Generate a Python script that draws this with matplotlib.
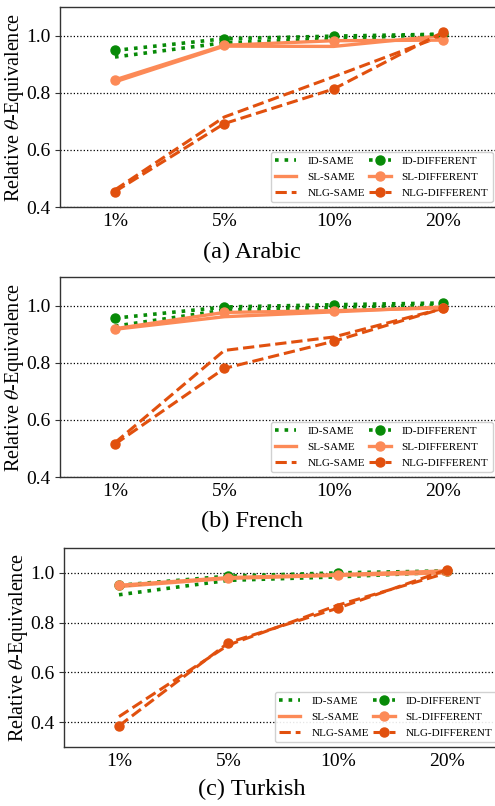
import matplotlib
matplotlib.use("Agg")
import matplotlib.pyplot as plt

plt.rcParams['font.family'] = ['Liberation Serif', 'DejaVu Serif']
plt.rcParams['mathtext.fontset'] = 'stix'

x_labels = ["1%", "5%", "10%", "20%"]

# Arabic
ar_id_same = [0.925, 0.975, 0.988, 1.005]
ar_id_diff = [0.948, 0.989, 0.998, 1.005]
ar_sl_same = [0.838, 0.963, 0.962, 1.000]
ar_sl_diff = [0.845, 0.966, 0.982, 0.984]
ar_nlg_same = [0.460, 0.715, 0.856, 1.000]
ar_nlg_diff = [0.454, 0.692, 0.813, 1.012]

# French
fr_id_same = [0.928, 0.984, 0.993, 1.002]
fr_id_diff = [0.956, 0.995, 1.003, 1.009]
fr_sl_same = [0.917, 0.961, 0.978, 0.995]
fr_sl_diff = [0.919, 0.976, 0.982, 0.992]
fr_nlg_same = [0.520, 0.843, 0.890, 0.990]
fr_nlg_diff = [0.515, 0.780, 0.875, 0.990]

# Turkish
tr_id_same = [0.912, 0.970, 0.984, 1.003]
tr_id_diff = [0.950, 0.987, 1.000, 1.008]
tr_sl_same = [0.945, 0.978, 0.990, 1.000]
tr_sl_diff = [0.950, 0.981, 0.993, 1.008]
tr_nlg_same = [0.422, 0.710, 0.870, 1.000]
tr_nlg_diff = [0.385, 0.719, 0.858, 1.013]

panels = [
    ("(a) Arabic", (ar_id_same, ar_id_diff, ar_sl_same, ar_sl_diff, ar_nlg_same, ar_nlg_diff), (0.4, 1.1)),
    ("(b) French", (fr_id_same, fr_id_diff, fr_sl_same, fr_sl_diff, fr_nlg_same, fr_nlg_diff), (0.4, 1.1)),
    ("(c) Turkish", (tr_id_same, tr_id_diff, tr_sl_same, tr_sl_diff, tr_nlg_same, tr_nlg_diff), (0.3, 1.1)),
]

GREEN = '#078a07'
LIGHT = '#fc8a57'
DARK = '#e1500e'

W, H = 495, 806
fig = plt.figure(figsize=(W / 100, H / 100), dpi=100)

rects = [
    (60.3, 7, 497.7, 207),
    (60.3, 277, 497.7, 477),
    (64.3, 548, 501.7, 747),
]
caption_y = [252, 521, 789]

xs = list(range(len(x_labels)))
for (title, series, ylim), (l, t, r, b), cy in zip(panels, rects, caption_y):
    ax = fig.add_axes([l / W, (H - b) / H, (r - l) / W, (b - t) / H])
    id_s, id_d, sl_s, sl_d, nlg_s, nlg_d = series
    ax.plot(xs, id_s, linestyle=':', color=GREEN, lw=2.6, label='ID-SAME')
    ax.plot(xs, sl_s, linestyle='-', color=LIGHT, lw=2.4, label='SL-SAME')
    ax.plot(xs, nlg_s, linestyle='--', color=DARK, lw=2.2, label='NLG-SAME')
    ax.plot(xs, id_d, linestyle=':', color=GREEN, lw=2.6, marker='o', ms=6.5, label='ID-DIFFERENT')
    ax.plot(xs, sl_d, linestyle='-', color=LIGHT, lw=2.4, marker='o', ms=6.5, label='SL-DIFFERENT')
    ax.plot(xs, nlg_d, linestyle='--', color=DARK, lw=2.2, marker='o', ms=6.5, label='NLG-DIFFERENT')
    ax.set_xlim(-0.5, 3.5)
    ax.set_ylim(*ylim)
    ax.set_yticks([0.4, 0.6, 0.8, 1.0])
    ax.set_yticklabels(["0.4", "0.6", "0.8", "1.0"])
    ax.set_xticks(xs)
    ax.set_xticklabels(x_labels)
    ax.tick_params(axis='both', labelsize=14, length=3.5, color='#333333')
    ax.tick_params(axis='x', length=0, pad=4)
    ax.grid(axis='y', linestyle=':', color='black', lw=0.9)
    ax.set_axisbelow(True)
    for s in ax.spines.values():
        s.set_color('#333333')
        s.set_linewidth(1.0)
    ax.set_ylabel(r'Relative $\theta$-Equivalence', fontsize=14.5)
    ax.yaxis.set_label_coords(-34 / (r - l), 0.5)
    fig.text(252 / W, (H - cy) / H, title, fontsize=17.5, ha='center', va='center')
    ax.legend(loc='lower right', ncol=2, fontsize=8, frameon=True, framealpha=0.9,
              edgecolor='#cccccc', handlelength=1.9, columnspacing=0.4,
              handletextpad=1.0, borderaxespad=0.45, labelspacing=0.55,
              borderpad=0.4)

fig.savefig('out.png', dpi=100)
